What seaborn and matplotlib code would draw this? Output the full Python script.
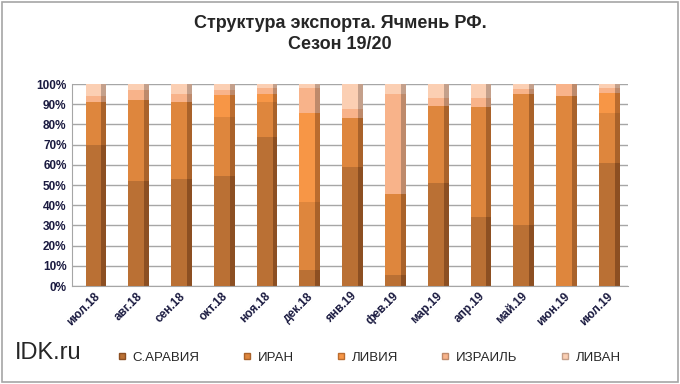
import numpy as np
import pandas as pd
import matplotlib
matplotlib.use("Agg")
import matplotlib.pyplot as plt
from matplotlib.patches import Rectangle
from matplotlib.lines import Line2D
from matplotlib.ticker import PercentFormatter, FixedLocator
import seaborn as sns

# данные (доли, %)
months = ['июл.18', 'авг.18', 'сен.18', 'окт.18', 'ноя.18', 'дек.18', 'янв.19',
          'фев.19', 'мар.19', 'апр.19', 'май.19', 'июн.19', 'июл.19']
countries = ['С.АРАВИЯ', 'ИРАН', 'ЛИВИЯ', 'ИЗРАИЛЬ', 'ЛИВАН']
saudi   = [70, 52, 53, 54.5, 74, 8, 59, 5.5, 51, 34, 30, 0, 61]
iran    = [21, 40, 38, 29, 17, 33.5, 24, 40, 38, 54.5, 65, 94, 24.5]
libya   = [0, 0, 0, 11, 4, 44, 0, 0, 0, 0, 0, 0, 10]
israel  = [3, 5, 4, 2.5, 3, 12.5, 4.5, 49.5, 4, 4.5, 2.5, 6, 2.5]
lebanon = [6, 3, 5, 3, 2, 2, 12.5, 5, 7, 7, 2.5, 0, 2]

colors = ['#BA7034', '#DE863D', '#F79646', '#F8B38A', '#FBCFB3']
side_colors = ['#8C4F22', '#A9622A', '#BB6C2E', '#BE8A6B', '#C4A08B']

df = pd.DataFrame({'month': months, 'С.АРАВИЯ': saudi, 'ИРАН': iran,
                   'ЛИВИЯ': libya, 'ИЗРАИЛЬ': israel, 'ЛИВАН': lebanon})
# нормируем к 100%
vals = df[countries].to_numpy(dtype=float)
vals = vals / vals.sum(axis=1, keepdims=True) * 100
cum = np.cumsum(vals, axis=1)

sns.set_style('white')
plt.rcParams['font.family'] = ['Liberation Sans', 'DejaVu Sans']

fig = plt.figure(figsize=(6.8, 3.84), dpi=100)
ax = fig.add_axes([0.106, 0.255, 0.818, 0.526])

x = np.arange(len(months))
w = 0.37
# рисуем накопленные суммы сверху вниз, чтобы получить стек
for i in range(len(countries) - 1, -1, -1):
    sns.barplot(x=months, y=cum[:, i], color=colors[i], width=w,
                saturation=1, ax=ax, zorder=3, linewidth=0)
    ax.bar(x + w / 2 + 0.055, cum[:, i], width=0.12, color=side_colors[i],
           zorder=2.5, linewidth=0)

ax.set_ylim(0, 100)
ax.set_xlim(-0.5, len(months) - 0.5)
ax.yaxis.set_major_locator(FixedLocator(np.arange(0, 101, 10)))
ax.yaxis.set_major_formatter(PercentFormatter(decimals=0))
ax.grid(axis='y', color='#A6A6A6', lw=1, zorder=0)
ax.set_axisbelow(True)
for s in ['top', 'right']:
    ax.spines[s].set_visible(False)
for s in ['left', 'bottom']:
    ax.spines[s].set_color('#A6A6A6')

ax.tick_params(axis='y', labelsize=8.5, colors='#1a1a40', length=0, pad=4)
ax.tick_params(axis='x', labelsize=8.5, colors='#1a1a40', length=0, pad=3)
ax.set_xticks(x)
ax.set_xticklabels(months, rotation=45, ha='right', rotation_mode='anchor',
                   fontweight='bold')
for t in ax.get_yticklabels():
    t.set_fontweight('bold')
ax.set_xticks(np.arange(-0.5, len(months), 1), minor=True)
ax.tick_params(axis='x', which='minor', length=4, color='#A6A6A6')
ax.set_xlabel('')
ax.set_ylabel('')

fig.text(0.5, 0.912, 'Структура экспорта. Ячмень РФ.\nСезон 19/20', ha='center',
         va='center', fontsize=13, fontweight='bold', linespacing=1.3)

fig.text(0.022, 0.065, 'IDK.ru', fontsize=17)

handles = [Line2D([], [], marker='s', ls='', markersize=5, color=c,
                  markeredgecolor=s) for c, s in zip(colors, side_colors)]
fig.legend(handles, countries, loc='center', bbox_to_anchor=(0.54, 0.068),
           ncol=5, frameon=False, handletextpad=0.2, handlelength=1.2,
           columnspacing=3.0, prop={'size': 9.5})

fig.patches.append(Rectangle((0.003, 0.005), 0.994, 0.99, transform=fig.transFigure,
                             fill=False, edgecolor='#A6A6A6', lw=1.2))

fig.savefig('out.png', dpi=100)
